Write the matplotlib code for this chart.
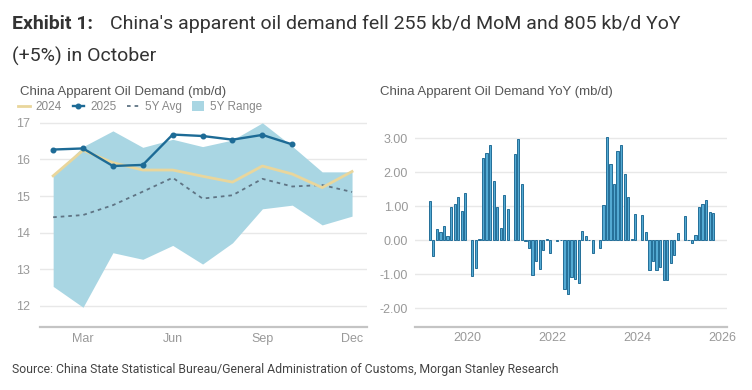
import numpy as np
import matplotlib
matplotlib.use("Agg")
import matplotlib.pyplot as plt
from matplotlib.lines import Line2D
from matplotlib.patches import Patch

plt.rcParams['font.family'] = ['Liberation Sans', 'DejaVu Sans']
plt.rcParams['axes.unicode_minus'] = False

# ---------------- data: left chart ----------------
month_nums = [2, 3, 4, 5, 6, 7, 8, 9, 10, 11, 12]   # Feb..Dec
month_ticks = [3, 6, 9, 12]
month_labels = ['Mar', 'Jun', 'Sep', 'Dec']
y2024 = [15.55, 16.25, 15.91, 15.71, 15.71, 15.54, 15.38, 15.82, 15.60, 15.23, 15.67]
y2025 = [16.27, 16.30, 15.82, 15.85, 16.68, 16.64, 16.54, 16.67, 16.41]
avg5y = [14.42, 14.48, 14.75, 15.12, 15.50, 14.93, 15.02, 15.47, 15.26, 15.30, 15.11]
range_hi = [15.55, 16.35, 16.78, 16.33, 16.55, 16.35, 16.53, 17.00, 16.36, 15.66, 15.66]
range_lo = [12.53, 11.96, 13.45, 13.27, 13.65, 13.14, 13.72, 14.65, 14.75, 14.21, 14.45]

# ---------------- data: right chart (YoY, mb/d), Jan..Dec per year ----------------
nan = np.nan
yoy_years = [2019, 2020, 2021, 2022, 2023, 2024, 2025]
yoy_2019 = [nan, 1.15, -0.45, 0.33, 0.25, 0.42, 0.13, 0.97, 1.08, 1.28, 0.87, 1.40]
yoy_2020 = [nan, -1.05, -0.82, 0.03, 2.43, 2.57, 2.80, 1.75, 0.98, 0.37, 1.32, 0.92]
yoy_2021 = [nan, 2.53, 2.97, 1.65, -0.03, -0.22, -1.03, -0.62, -0.85, -0.30, 0.05, -0.37]
yoy_2022 = [nan, -0.03, 0.02, -1.42, -1.57, -1.08, -1.13, -1.25, 0.27, 0.13, 0.0, -0.37]
yoy_2023 = [nan, -0.22, 1.05, 3.05, 2.25, 1.65, 2.62, 2.80, 1.95, 1.28, 0.05, 0.78]
yoy_2024 = [nan, 0.75, 0.23, -0.87, -0.62, -0.87, -0.80, -1.17, -1.17, -0.68, -0.43, 0.22]
yoy_2025 = [nan, 0.72, 0.02, -0.07, 0.15, 0.97, 1.07, 1.17, 0.83, 0.80]
yoy_ticks = [2020, 2022, 2024, 2026]
yoy_yticks = [-2, -1, 0, 1, 2, 3]

# ---------------- figure ----------------
W, H = 752, 390
fig = plt.figure(figsize=(W / 100, H / 100), dpi=100)

def box(l, t, r, b):
    return [l / W, 1 - b / H, (r - l) / W, (b - t) / H]

grid_c = '#e8e8e8'
tick_c = '#999999'
title_c = '#555555'

# ---- left chart ----
ax1 = fig.add_axes(box(40, 121, 367, 327))
ax1.fill_between(month_nums, range_lo, range_hi, color='#a9d6e3', lw=0, zorder=1)
ax1.plot(month_nums, avg5y, color='#5f7484', lw=1.3, ls=(0, (2, 2.2)), zorder=3)
ax1.plot(month_nums, y2024, color='#e9d69c', lw=2.0, zorder=4)
ax1.plot(month_nums[:len(y2025)], y2025, color='#1d6b96', lw=1.7, marker='o', ms=3.3, zorder=5)
ax1.set_xlim(1.56, 12.5)
ax1.set_ylim(11.42, 17.05)
ax1.set_yticks([12, 13, 14, 15, 16, 17])
ax1.set_xticks(month_ticks)
ax1.set_xticklabels(month_labels)
ax1.yaxis.grid(True, color=grid_c, lw=1.0, zorder=0)
ax1.set_axisbelow(True)
for s in ['top', 'right', 'left']:
    ax1.spines[s].set_visible(False)
ax1.spines['bottom'].set_color('#c4c4c4')
ax1.spines['bottom'].set_linewidth(1.6)
ax1.tick_params(length=0, colors=tick_c, labelsize=9)
ax1.tick_params(axis='y', pad=7)
ax1.tick_params(axis='x', pad=4)
ax1.patch.set_alpha(0)

fig.text(20 / W, 1 - 92 / H, 'China Apparent Oil Demand (mb/d)', fontsize=9.5,
         color=title_c, va='center', ha='left')

handles = [Line2D([], [], color='#e9d69c', lw=2.0),
           Line2D([], [], color='#1d6b96', lw=1.7, marker='o', ms=3.3),
           Line2D([], [], color='#5f7484', lw=1.3, ls=(0, (2, 2.2))),
           Patch(facecolor='#a9d6e3', edgecolor='none')]
labels = ['2024', '2025', '5Y Avg', '5Y Range']
fig.legend(handles, labels, ncol=4, loc='center left', bbox_to_anchor=(18 / W, 1 - 107 / H),
           frameon=False, fontsize=8.5, handlelength=1.0, handletextpad=0.5, columnspacing=0.9,
           labelcolor='#888888', borderaxespad=0, borderpad=0, handleheight=1.0)

# ---- right chart ----
ax2 = fig.add_axes(box(415, 128, 727, 326.7))
all_yoy = [yoy_2019, yoy_2020, yoy_2021, yoy_2022, yoy_2023, yoy_2024, yoy_2025]
xs, vs = [], []
for yr, vals in zip(yoy_years, all_yoy):
    for m, v in enumerate(vals, start=1):
        if not np.isnan(v):
            xs.append(yr + (m - 0.45) / 12)
            vs.append(v)
ax2.bar(xs, vs, width=0.62 / 12, color='#54aad3', edgecolor='#236e98', linewidth=0.7, zorder=3)
ax2.set_xlim(2018.78, 2026.12)
ax2.set_ylim(-2.54, 3.3)
ax2.set_yticks(yoy_yticks)
ax2.set_yticklabels(['%.2f' % v for v in yoy_yticks])
ax2.set_xticks(yoy_ticks)
ax2.set_xticklabels([str(t) for t in yoy_ticks])
ax2.yaxis.grid(True, color=grid_c, lw=1.0, zorder=0)
ax2.set_axisbelow(True)
for s in ['top', 'right', 'left']:
    ax2.spines[s].set_visible(False)
ax2.spines['bottom'].set_color('#c4c4c4')
ax2.spines['bottom'].set_linewidth(1.6)
ax2.tick_params(length=0, colors=tick_c, labelsize=9)
ax2.tick_params(axis='y', pad=5)
ax2.tick_params(axis='x', pad=4)
ax2.patch.set_alpha(0)

fig.text(380 / W, 1 - 92 / H, 'China Apparent Oil Demand YoY (mb/d)', fontsize=9.5,
         color=title_c, va='center', ha='left')

# ---- header & footer ----
fig.text(12 / W, 1 - 24 / H, 'Exhibit 1:', fontsize=14, fontweight='bold', color='#333333',
         va='center', ha='left', family=['Roboto', 'DejaVu Sans'])
fig.text(110 / W, 1 - 24 / H, "China's apparent oil demand fell 255 kb/d MoM and 805 kb/d YoY",
         fontsize=14, color='#333333', va='center', ha='left', family=['Roboto', 'DejaVu Sans'])
fig.text(12 / W, 1 - 56 / H, '(+5%) in October', fontsize=14, color='#333333',
         va='center', ha='left', family=['Roboto', 'DejaVu Sans'])
fig.text(12 / W, 1 - 370 / H,
         'Source: China State Statistical Bureau/General Administration of Customs, Morgan Stanley Research',
         fontsize=8.8, color='#444444', va='center', ha='left', family=['Roboto', 'DejaVu Sans'])

fig.savefig('out.png', dpi=100, facecolor='white')
